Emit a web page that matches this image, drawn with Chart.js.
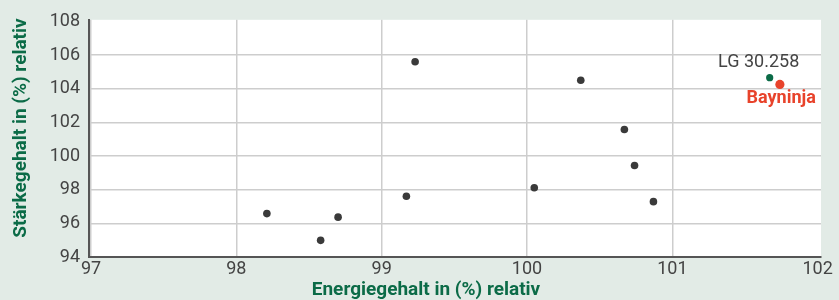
<!DOCTYPE html>
<html>
<head>
<meta charset="utf-8">
<script src="https://cdn.jsdelivr.net/npm/chart.js@4"></script>
<style>
  html, body { margin: 0; padding: 0; background: #e2ebe6; }
  #wrap { width: 839px; height: 300px; }
</style>
</head>
<body>
<div id="wrap"><canvas id="chart"></canvas></div>
<script>
// Sorten: Energiegehalt (x) und Stärkegehalt (y), relativ in %
const energie = [98.21, 98.58, 98.70, 99.17, 99.23, 100.05, 100.37, 100.67, 100.74, 100.87];
const staerke = [96.58, 94.99, 96.37, 97.61, 105.61, 98.12, 104.51, 101.58, 99.44, 97.29];

// hervorgehobene Sorten
const lgName = 'LG 30.258';
const lgPunkt = [101.67, 104.66];
const bayName = 'Bayninja';
const bayPunkt = [101.74, 104.26];

const xTicks = [97, 98, 99, 100, 101, 102];
const yTicks = [94, 96, 98, 100, 102, 104, 106, 108];

const xTitel = 'Energiegehalt in (%) relativ';
const yTitel = 'Stärkegehalt in (%) relativ';

const gruen = '#0b6b47';
const rot = '#e8432b';
const grau = '#3a3a3a';

function toPoints(xs, ys) {
    return xs.map((x, i) => ({ x: x, y: ys[i] }));
}

// weisser Hintergrund der Zeichenfläche + Achsentitel + Beschriftungen
const deko = {
    id: 'deko',
    beforeDraw(chart) {
        const a = chart.chartArea;
        const ctx = chart.ctx;
        ctx.save();
        ctx.fillStyle = '#ffffff';
        ctx.fillRect(a.left, a.top, a.right - a.left, a.bottom - a.top);
        ctx.restore();
    },
    afterDraw(chart) {
        const ctx = chart.ctx;
        ctx.save();
        ctx.font = 'bold 19px Roboto';
        ctx.fillStyle = gruen;
        ctx.textAlign = 'center';
        ctx.textBaseline = 'middle';
        ctx.fillText(xTitel, 426, 290);
        ctx.translate(21, 128);
        ctx.rotate(-Math.PI / 2);
        ctx.fillText(yTitel, 0, 0);
        ctx.restore();

        ctx.save();
        const lg = chart.getDatasetMeta(1).data[0];
        const bay = chart.getDatasetMeta(2).data[0];
        ctx.font = '18px Roboto';
        ctx.fillStyle = '#444444';
        ctx.textAlign = 'center';
        ctx.textBaseline = 'alphabetic';
        ctx.fillText(lgName, lg.x - 11, lg.y - 11);
        ctx.font = 'bold 18px Roboto';
        ctx.fillStyle = rot;
        ctx.textAlign = 'right';
        ctx.fillText(bayName, bay.x + 36, bay.y + 19);
        ctx.restore();
    }
};

const hideEdge = (skip) => (c) => (skip.includes(c.tick.value) ? 'rgba(0,0,0,0)' : '#cdcdcd');

new Chart(document.getElementById('chart'), {
    type: 'scatter',
    data: {
        datasets: [
            {
                data: toPoints(energie, staerke),
                backgroundColor: grau,
                borderWidth: 0,
                pointRadius: 3.8
            },
            {
                data: [{ x: lgPunkt[0], y: lgPunkt[1] }],
                backgroundColor: gruen,
                borderWidth: 0,
                pointRadius: 3.6
            },
            {
                data: [{ x: bayPunkt[0], y: bayPunkt[1] }],
                backgroundColor: rot,
                borderWidth: 0,
                pointRadius: 4.6
            }
        ]
    },
    options: {
        responsive: true,
        maintainAspectRatio: false,
        animation: false,
        layout: { padding: { left: 0, right: 18, top: 15, bottom: 0 } },
        plugins: {
            legend: { display: false },
            tooltip: { enabled: false }
        },
        scales: {
            x: {
                type: 'linear',
                min: 96.986,
                max: 102.023,
                afterBuildTicks: (s) => { s.ticks = xTicks.map(v => ({ value: v })); },
                afterFit: (s) => { s.height = 43; },
                grid: { color: hideEdge([102]), lineWidth: 1.5, drawTicks: false },
                border: { color: '#555555', width: 2 },
                ticks: {
                    color: '#444444',
                    font: { family: 'Roboto', size: 18 },
                    padding: 2,
                    maxRotation: 0
                }
            },
            y: {
                type: 'linear',
                min: 94,
                max: 108.1,
                afterBuildTicks: (s) => { s.ticks = yTicks.map(v => ({ value: v })); },
                afterFit: (s) => { s.width = 89; },
                grid: { color: hideEdge([108]), lineWidth: 1.5, drawTicks: false },
                border: { color: '#555555', width: 2 },
                ticks: {
                    color: '#444444',
                    font: { family: 'Roboto', size: 18 },
                    padding: 9
                }
            }
        }
    },
    plugins: [deko]
});
</script>
</body>
</html>
